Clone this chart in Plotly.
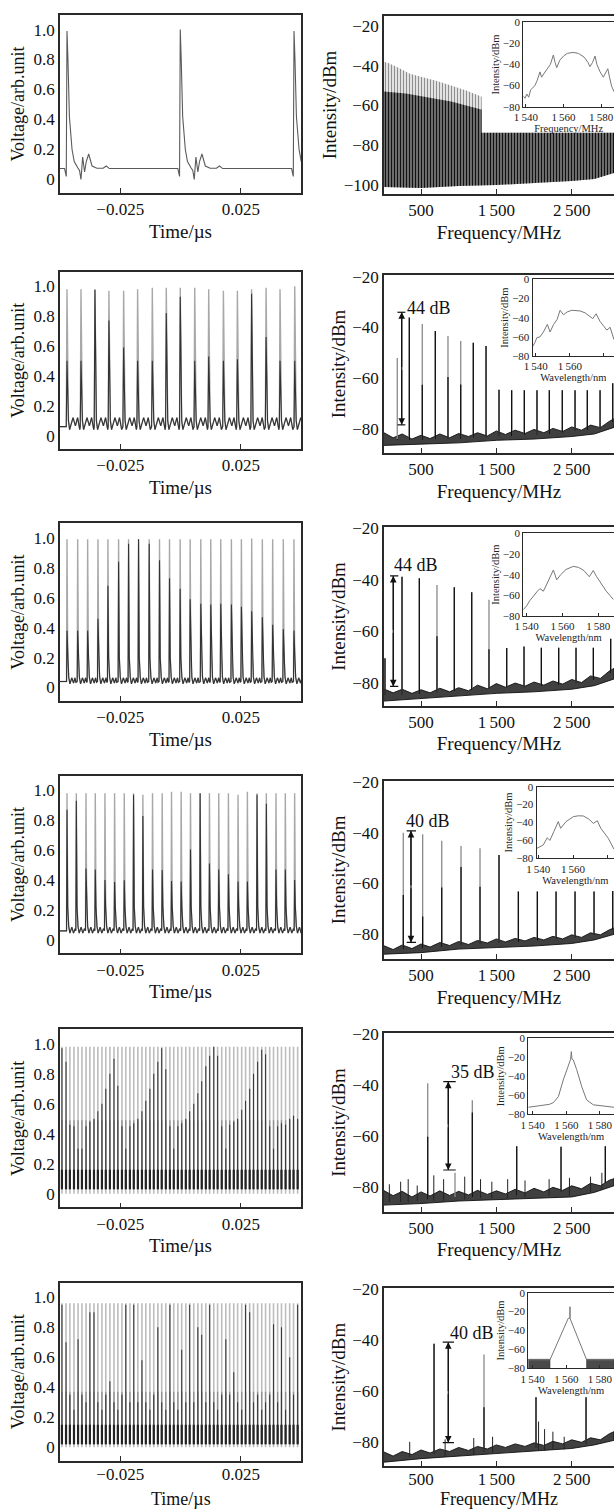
import plotly.graph_objects as go

W, H = 614, 1510
SERIF = "Liberation Serif"
TS = "\u2009"
MN = "\u2212"

# ================= DATA =================
# ---- time domain (left column), time in us, voltage arb. unit ----
t_start = -0.05
r1_t = [-0.0471, -0.0001, 0.0471]
r1_peak = [0.99, 1.0, 0.99]
r1_pre_dt = [-0.0010, -0.0003]
r1_pre_v = [0.073, 0.02]
r1_post_dt = [0.0004, 0.0010, 0.0021, 0.0030, 0.0044, 0.0052, 0.0058, 0.0065, 0.0073, 0.0080, 0.0090, 0.0104, 0.0124, 0.0150, 0.0163, 0.0176, 0.0440]
r1_post_v = [0.80, 0.42, 0.20, 0.12, 0.08, 0.06, 0.00, 0.15, 0.05, 0.12, 0.17, 0.09, 0.075, 0.075, 0.09, 0.073, 0.073]

r2_t = [-0.0471, -0.0413, -0.0355, -0.0297, -0.0236, -0.0178, -0.0117, -0.0059, -0.0001,
        0.0059, 0.0117, 0.0178, 0.0236, 0.0295, 0.0355, 0.0413, 0.0474]
r2_light = [0.98, 0.98, 0.98, 0.97, 0.97, 0.98, 0.99, 0.99, 0.99, 0.99, 0.98, 0.97, 0.97, 0.98, 0.99, 0.98, 1.0]
r2_dark = [0.50, 0.50, 0.976, 0.77, 0.59, 0.50, 0.50, 0.82, 0.93, 0.50, 0.53, 0.50, 0.51, 0.95, 0.66, 0.50, 0.50]
r2_pre_dt = [-0.0003]
r2_pre_v = [0.06]
r2_post_dt = [0.0003, 0.0006, 0.0011, 0.0025, 0.0035, 0.0044, 0.0053]
r2_post_v = [0.23, 0.10, 0.04, 0.12, 0.065, 0.12, 0.04]

r3_t = [-0.04709, -0.04267, -0.03853, -0.03425, -0.03011, -0.02569, -0.02155, -0.01741, -0.01299,
        -0.00871, -0.00456, -0.00015, 0.00400, 0.00842, 0.01256, 0.01670, 0.02112, 0.02526,
        0.02954, 0.03396, 0.03824, 0.04266, 0.04708]
r3_light = [0.99, 0.99, 0.99, 0.99, 0.99, 0.99, 0.99, 0.99, 0.99, 0.99, 0.99, 0.99,
            0.99, 0.99, 0.99, 0.99, 0.99, 0.99, 0.995, 0.99, 0.99, 0.99, 0.99]
r3_dark = [0.38, 0.38, 0.38, 0.46, 0.68, 0.84, 0.96, 0.99, 0.96, 0.85, 0.73, 0.66,
           0.59, 0.56, 0.555, 0.56, 0.555, 0.54, 0.51, 0.47, 0.42, 0.39, 0.38]
r3_pre_dt = [-0.0002]
r3_pre_v = [0.04]
r3_post_dt = [0.0003, 0.0007, 0.0012, 0.0020, 0.0027, 0.0033, 0.0037]
r3_post_v = [0.20, 0.07, 0.025, 0.065, 0.03, 0.065, 0.035]

r4_t = [-0.04709, -0.04323, -0.03922, -0.03536, -0.03135, -0.02735, -0.02334, -0.01948, -0.01561,
        -0.01161, -0.00760, -0.00373, 0.00027, 0.00414, 0.00814, 0.01201, 0.01587, 0.01988,
        0.02388, 0.02775, 0.03175, 0.03562, 0.03962, 0.04349, 0.04736]
r4_light = [0.98, 0.98, 0.98, 0.98, 0.98, 0.98, 0.98, 0.98, 0.97, 0.98, 0.98, 0.99, 0.99,
            0.98, 0.98, 0.98, 0.98, 0.98, 0.97, 0.99, 0.98, 0.98, 0.98, 0.98, 0.98]
r4_dark = [0.87, 0.93, 0.476, 0.47, 0.40, 0.387, 0.398, 0.97, 0.827, 0.47, 0.467, 0.393, 0.39,
           0.604, 0.98, 0.51, 0.47, 0.438, 0.39, 0.39, 0.97, 0.91, 0.47, 0.47, 0.40]
r4_pre_dt = [-0.0002]
r4_pre_v = [0.06]
r4_post_dt = [0.0003, 0.0007, 0.0012, 0.0020, 0.0027, 0.0034]
r4_post_v = [0.22, 0.09, 0.045, 0.085, 0.045, 0.075]

t_dense = [-0.0492, -0.0475, -0.0459, -0.0442, -0.0425, -0.0409, -0.0392, -0.0376, -0.0359, -0.0343,
           -0.0326, -0.0310, -0.0293, -0.0276, -0.0260, -0.0243, -0.0227, -0.0210, -0.0194, -0.0177,
           -0.0160, -0.0144, -0.0127, -0.0111, -0.0094, -0.0078, -0.0061, -0.0044, -0.0028, -0.0011,
           0.0005, 0.0022, 0.0038, 0.0055, 0.0072, 0.0088, 0.0105, 0.0121, 0.0138, 0.0154,
           0.0171, 0.0188, 0.0204, 0.0221, 0.0237, 0.0254, 0.0270, 0.0287, 0.0303, 0.0320,
           0.0337, 0.0353, 0.0370, 0.0386, 0.0403, 0.0419, 0.0436, 0.0453, 0.0469, 0.0486]
r5_light = 0.98
r5_mid = 0.49
r5_band = [0.03, 0.16]
r5_dark = [0.97, 0.88, 0.46, 0.45, 0.30, 0.30, 0.45, 0.48, 0.50, 0.55, 0.60, 0.70, 0.80, 0.90, 0.72,
           0.45, 0.30, 0.45, 0.47, 0.50, 0.55, 0.62, 0.70, 0.80, 0.88, 0.97, 0.83, 0.45, 0.30, 0.45,
           0.47, 0.50, 0.55, 0.60, 0.67, 0.75, 0.85, 0.92, 0.98, 0.92, 0.45, 0.30, 0.46, 0.48, 0.50,
           0.56, 0.62, 0.70, 0.80, 0.88, 0.96, 0.93, 0.45, 0.30, 0.45, 0.47, 0.46, 0.50, 0.52, 0.50]
r6_light = 0.96
r6_mid = 0.37
r6_band = [0.02, 0.15]
r6_dark = [0.95, 0.70, 0.35, 0.25, 0.72, 0.35, 0.30, 0.90, 0.90, 0.30, 0.25, 0.35, 0.44, 0.30, 0.25,
           0.35, 0.95, 0.30, 0.95, 0.30, 0.58, 0.30, 0.25, 0.35, 0.80, 0.30, 0.25, 0.95, 0.30, 0.25,
           0.65, 0.30, 0.95, 0.30, 0.80, 0.75, 0.30, 0.95, 0.30, 0.25, 0.35, 0.72, 0.35, 0.50, 0.30,
           0.25, 0.95, 0.90, 0.30, 0.35, 0.25, 0.30, 0.35, 0.82, 0.30, 0.80, 0.25, 0.60, 0.35, 0.95]

# ---- RF spectra (right column), MHz / dBm ----
f_range = [9, 3061]
r1_env_light_f = [9, 60, 200, 354, 500, 700, 900, 1100, 1300, 1500, 2000, 3061]
r1_env_light_db = [-38, -38.5, -41, -44, -45.5, -47.5, -50, -52.5, -55.5, -60, -65, -70]
r1_env_dark_f = [9, 300, 600, 900, 1300, 2000, 3061]
r1_env_dark_db = [-53, -54, -56, -58, -62, -68, -72]
r1_floor_f = [9, 500, 1000, 1500, 2000, 2500, 2800, 3061]
r1_floor_db = [-101, -101.5, -100.5, -100, -99, -98, -97, -94]

# noise floor: jagged upper edge and smooth lower edge
band_f = [9, 130, 250, 380, 500, 620, 750, 880, 1000, 1130, 1250, 1380, 1500, 1620, 1750, 1880,
          2000, 2130, 2250, 2380, 2500, 2630, 2750, 2880, 3000, 3061]
floor_f = [9, 500, 1000, 1500, 2000, 2500, 2800, 3061]
r2_band_hi = [-81.5, -83.5, -82, -84, -82.5, -83.8, -82, -83.5, -81.8, -83, -81.5, -82.8, -80.8, -82.2, -80.5,
              -81.8, -80.2, -81.5, -79.8, -81, -79.2, -80.5, -78.5, -79.5, -77, -76]
r2_band_lo = [-86.5, -86, -85.5, -84.5, -84, -83, -82, -79.4]
r3_band_hi = [-82.5, -84, -82.6, -84.2, -82.8, -84, -82.2, -83.6, -82, -83.2, -81, -82.4, -80.4, -81.8, -80.2,
              -81.4, -79.8, -81, -79.4, -80.6, -78.8, -80, -77.4, -78.4, -75.5, -74.5]
r3_band_lo = [-87.2, -86.2, -85.2, -84.2, -83.6, -82.6, -81.2, -78.6]
r4_band_hi = [-84.5, -86, -84.2, -85.6, -83.8, -85, -83.2, -84.4, -82.8, -84, -82.4, -83.4, -81.8, -83, -81.6,
              -82.6, -81.2, -82.2, -80.8, -81.8, -80.2, -81.2, -79.4, -80.2, -78.2, -77.5]
r4_band_lo = [-87.8, -87.2, -85.8, -85.2, -84.6, -83.6, -82.2, -80]
r5_band_hi = [-81.5, -83.5, -81.8, -84, -82, -83.6, -81.6, -83.4, -81.8, -83.2, -81.4, -83, -81.6, -82.8, -81,
              -82.4, -80.6, -82, -80.2, -81.4, -79.6, -80.8, -78.6, -79.6, -77.4, -76.8]
r5_band_lo = [-87.2, -86.6, -85.6, -85.2, -84.6, -84, -82.2, -79.6]
r6_band_hi = [-84, -85.6, -83.8, -85, -83.2, -84.4, -82.8, -83.8, -82.2, -83.4, -81.8, -82.8, -81.2, -82.2, -80.8,
              -81.8, -80.4, -81.4, -79.8, -80.8, -79.2, -80.2, -78.4, -79.2, -76.8, -76]
r6_band_lo = [-88, -86.6, -85.6, -84.6, -83.6, -82.6, -81.2, -79.4]

r2_pk_f = [185, 345, 517, 690, 858, 1027, 1194, 1363, 1535, 1703, 1871, 2039, 2203, 2375, 2544, 2707, 2876, 3044]
r2_pk_top = [-52, -36.1, -38.6, -41.4, -43.4, -45.3, -46.0, -47.3, -64.6, -64.8, -64.8, -64.8, -64.8, -64.8, -64.8, -64.8, -64.8, -62.0]
r2_pk_dark = [-84, -36.1, -62.6, -41.4, -59.5, -62.5, -46.0, -47.3, -64.6, -64.8, -64.8, -64.8, -64.8, -64.8, -64.8, -64.8, -64.8, -62.0]
r2_pk_base = [-84.5, -84.5, -84.5, -84, -84, -84, -83.5, -83.5, -83, -83, -82.5, -82.5, -82, -81.5, -81, -80.5, -80, -77.5]

r3_pk_f = [22, 248, 478, 712, 942, 1173, 1402, 1637, 1867, 2097, 2327, 2557, 2787, 3017]
r3_pk_top = [-70.5, -38.8, -39.4, -42.0, -42.9, -44.9, -47.8, -66.6, -66.0, -66.5, -66.5, -66.5, -66.5, -63.0]
r3_pk_dark = [-70.5, -38.8, -39.4, -62.0, -42.9, -44.9, -67.0, -66.6, -66.0, -66.5, -66.5, -66.5, -66.5, -63.0]
r3_pk_base = [-85, -85, -84.5, -84, -83.5, -83, -82.5, -82, -82, -81.5, -81, -80.5, -79, -76.5]

r4_pk_f = [265, 522, 775, 1031, 1283, 1535, 1792, 2044, 2292, 2544, 2796, 3044]
r4_pk_top = [-40.1, -40.7, -43.2, -45.3, -46.2, -48.8, -63.2, -63.2, -63.2, -63.2, -63.2, -63.0]
r4_pk_dark = [-64.5, -73.0, -61.6, -53.5, -61.3, -48.8, -63.2, -63.2, -63.2, -63.2, -63.2, -63.0]
r4_pk_base = [-86, -85.5, -85, -84.5, -84, -83.5, -83, -82.5, -82, -81.5, -80.5, -78.5]

r5_pk_f = [589, 951, 1181, 1770, 2358, 2946]
r5_pk_top = [-39.3, -74.5, -45.9, -64.0, -64.2, -64.0]
r5_pk_dark = [-60.3, -84.0, -50.8, -64.0, -64.2, -64.0]
r5_pk_base = [-85, -84, -84, -83.5, -82, -78.5]
r5_sp_f = [80, 230, 330, 450, 670, 800, 1080, 1290, 1440, 1650, 1880, 2200, 2470, 2750, 2900]
r5_sp_top = [-79, -78, -77, -79.5, -75.5, -77, -76, -77, -78, -77, -77.5, -77, -76.5, -76, -74.5]
r5_sp_base = [-86, -86, -86, -85.5, -85.5, -85.5, -85, -84.5, -84.5, -84.5, -84, -83.5, -83.5, -82, -81]

r6_pk_f = [673, 1336, 2026, 2690]
r6_pk_top = [-41.4, -45.6, -62.5, -62.5]
r6_pk_dark = [-41.4, -66.4, -62.5, -62.5]
r6_pk_base = [-85, -84, -82.5, -81]
r6_sp_f = [350, 820, 1200, 1450, 2060, 2140, 2250, 2400]
r6_sp_top = [-80, -79, -78.5, -78, -72, -75, -76, -78]
r6_sp_base = [-86, -85.5, -85, -84.5, -83.5, -83.5, -83, -83]

# extinction-ratio arrows: x, top, bottom, cap left, cap right, label, label x, label y
arrows = {
    2: (244, -34.0, -78.4, 188, 292, "44 dB", 288, -32.5),
    3: (132, -38.5, -81.5, 89, 199, "44 dB", 111, -34.2),
    4: (367, -39.3, -83.2, 310, 434, "40 dB", 278, -35.5),
    5: (862, -38.6, -73.4, 796, 961, "35 dB", 876, -34.7),
    6: (862, -40.8, -80.3, 788, 938, "40 dB", 862, -37.0),
}

# ---- optical spectra insets: wavelength nm / dBm ----
in1_wl = [1538.6, 1539.5, 1540.5, 1541.5, 1542.5, 1543.5, 1544.8, 1546, 1547.5, 1548.3, 1549.2, 1551, 1553, 1554.6,
          1555.5, 1556.4, 1558, 1560, 1562, 1565, 1568, 1571, 1573, 1574.1, 1575.5, 1576.8, 1577.8, 1579.5,
          1581.2, 1582.5, 1583.6, 1584.5, 1585.7, 1587]
in1_db = [-70, -72, -68, -71, -64, -62, -60, -55, -47, -52, -50, -45, -40, -31,
          -38, -43, -36, -32, -29.5, -28.5, -29.5, -33, -38, -42, -38, -32, -40, -47,
          -52, -47, -44, -52, -61, -66]
in2_wl = [1538.2, 1539.5, 1540.6, 1542.5, 1544.5, 1546.8, 1548.4, 1550.5, 1552.5, 1554.3, 1556.3, 1558.5, 1561.2,
          1564, 1566.1, 1569, 1572, 1573.5, 1575.5, 1577.8, 1580, 1581.8, 1583.7, 1585.6, 1586]
in2_db = [-70, -66, -61, -60, -55, -47, -55, -47, -42, -32.3, -37, -34, -32.3,
          -32.5, -33, -35, -39, -41, -36, -44, -49, -53, -50, -61, -63]
in3_wl = [1538.1, 1540, 1541.8, 1544, 1546, 1547.4, 1549.3, 1551, 1553, 1554.9, 1556.8, 1559, 1562, 1566,
          1569, 1572, 1575, 1577.2, 1579.1, 1581, 1582.8, 1584.5, 1586.5, 1588.4]
in3_db = [-74, -70, -65, -60, -56, -53.5, -56, -50, -43, -35.5, -45, -40, -35, -32,
          -33, -36, -42, -36, -42, -47, -52, -56, -60, -64]
in4_wl = [1539.1, 1541, 1542.9, 1545.2, 1546.7, 1549, 1551.5, 1552.9, 1556, 1560.2, 1563, 1565.9, 1569,
          1571.7, 1574, 1576, 1578, 1580.3, 1582.3, 1583.6]
in4_db = [-69, -67, -65, -57, -60, -50, -39, -46.5, -39, -33.5, -32.5, -32.7, -36,
          -41, -38, -46.5, -52, -57.6, -65, -70]
in5_wl = [1537.4, 1540, 1545, 1550, 1552.3, 1555.3, 1558.2, 1561.2, 1562.6, 1563.0, 1563.4, 1564.2, 1566.2,
          1569.2, 1572.1, 1576.1, 1582, 1588.4]
in5_db = [-72.6, -72, -71, -69.5, -67.7, -61.4, -43.9, -28, -22, -14, -22, -22.8, -33,
          -50.9, -64.9, -70, -71.5, -72.6]
in6_wl = [1537.4, 1550.3, 1561.2, 1562.2, 1562.2, 1562.2, 1572.1, 1588.4]
in6_db = [-71, -71, -27, -27, -14.8, -27, -71, -71]
in6_noise_l = [1537.4, 1550.3]
in6_noise_r = [1572.1, 1588.4]
in6_noise_top = -70.5

# ================= LAYOUT GEOMETRY (pixels) =================
left_x = (60, 301)
right_x = (384, 614)
left_y = [(15, 193), (271.7, 449), (523.3, 701), (775.7, 953.3), (1029.3, 1207.3), (1282.7, 1460.7)]
right_y = [(16, 194), (275, 453), (527.3, 705.7), (780.7, 959), (1033.3, 1211.7), (1288.3, 1466)]
right_yr = [[-104.5, -15], [-89.5, -19.3], [-89.0, -19.6], [-89.7, -19.6], [-89.8, -19.6], [-89.5, -19.6]]
inset_box = [(523.3, 22.3, 106.7), (532.7, 279.3, 356), (523.3, 533.3, 616),
             (536.7, 786.7, 858.3), (528.3, 1038.3, 1114.3), (528.3, 1292.7, 1368.3)]
inset_xr = [[1538.6, 1586.9], [1538.2, 1586], [1538.1, 1588.8], [1539.1, 1583.6], [1537.4, 1588.4], [1537.4, 1588.4]]
cover_box = (481.7, 17.5, 132.7)


def dx(a, b):
    return [a / W, min(b / W, 1.0)]


def dy(top, bot):
    return [1 - bot / H, 1 - top / H]


def ax(n):
    return ("x" if n == 1 else f"x{n}"), ("y" if n == 1 else f"y{n}")


def axkey(n):
    return ("xaxis" if n == 1 else f"xaxis{n}"), ("yaxis" if n == 1 else f"yaxis{n}")


fig = go.Figure()
LINE = "#2a2a2a"


def add(tr, n):
    xa, ya = ax(n)
    tr.update(xaxis=xa, yaxis=ya, hoverinfo="skip", showlegend=False)
    fig.add_trace(tr)


def pulse_xy(times, peaks, pre_dt, pre_v, post_dt, post_v):
    X, Y = [t_start], [pre_v[0]]
    for t, p in zip(times, peaks):
        X += [t + d for d in pre_dt] + [t] + [t + d for d in post_dt]
        Y += list(pre_v) + [p] + list(post_v)
    return X, Y


def segs(xs, y0, y1):
    X, Y = [], []
    for i, x in enumerate(xs):
        a = y0[i] if isinstance(y0, list) else y0
        b = y1[i] if isinstance(y1, list) else y1
        X += [x, x, None]
        Y += [a, b, None]
    return X, Y


# ---------- left column ----------
X, Y = pulse_xy(r1_t, r1_peak, r1_pre_dt, r1_pre_v, r1_post_dt, r1_post_v)
add(go.Scatter(x=X, y=Y, mode="lines", line=dict(color="#5a5a5a", width=1.1)), 1)

for n, (tt, lt, dk, pdt, pv, qdt, qv) in {
    2: (r2_t, r2_light, r2_dark, r2_pre_dt, r2_pre_v, r2_post_dt, r2_post_v),
    3: (r3_t, r3_light, r3_dark, r3_pre_dt, r3_pre_v, r3_post_dt, r3_post_v),
    4: (r4_t, r4_light, r4_dark, r4_pre_dt, r4_pre_v, r4_post_dt, r4_post_v),
}.items():
    X, Y = pulse_xy(tt, lt, pdt, pv, qdt, qv)
    add(go.Scatter(x=X, y=Y, mode="lines", line=dict(color="#a8a8a8", width=1.4)), n)
    X, Y = pulse_xy(tt, dk, pdt, pv, qdt, qv)
    add(go.Scatter(x=X, y=Y, mode="lines", line=dict(color="#333333", width=1.1)), n)

for n, (lt, md, band, dk) in {5: (r5_light, r5_mid, r5_band, r5_dark),
                              6: (r6_light, r6_mid, r6_band, r6_dark)}.items():
    X, Y = segs(t_dense, 0.0, lt)
    add(go.Scatter(x=X, y=Y, mode="lines", line=dict(color="#bdbdbd", width=1.6)), n)
    X, Y = segs(t_dense, band[0], md)
    add(go.Scatter(x=X, y=Y, mode="lines", line=dict(color="#8e8e8e", width=1.3)), n)
    X, Y = segs(t_dense, band[0], dk)
    add(go.Scatter(x=X, y=Y, mode="lines", line=dict(color="#3a3a3a", width=1.1)), n)
    X, Y = segs(t_dense, band[0], band[1])
    add(go.Scatter(x=X, y=Y, mode="lines", line=dict(color="#222222", width=2.2)), n)

# ---------- right column ----------
add(go.Scatter(x=r1_env_light_f + r1_floor_f[::-1], y=r1_env_light_db + r1_floor_db[::-1],
               mode="lines", fill="toself", line=dict(width=0, color="#999"),
               fillpattern=dict(shape="|", size=3, solidity=0.5, fgcolor="#8f8f8f", bgcolor="white",
                                fillmode="replace")), 7)
add(go.Scatter(x=r1_env_dark_f + r1_floor_f[::-1], y=r1_env_dark_db + r1_floor_db[::-1],
               mode="lines", fill="toself", line=dict(width=0, color="#111"),
               fillpattern=dict(shape="|", size=3, solidity=0.5, fgcolor="#111111", bgcolor="#8a8a8a",
                                fillmode="replace")), 7)

rows = {
    2: (r2_band_hi, r2_band_lo, r2_pk_f, r2_pk_top, r2_pk_dark, r2_pk_base, None),
    3: (r3_band_hi, r3_band_lo, r3_pk_f, r3_pk_top, r3_pk_dark, r3_pk_base, None),
    4: (r4_band_hi, r4_band_lo, r4_pk_f, r4_pk_top, r4_pk_dark, r4_pk_base, None),
    5: (r5_band_hi, r5_band_lo, r5_pk_f, r5_pk_top, r5_pk_dark, r5_pk_base, (r5_sp_f, r5_sp_top, r5_sp_base)),
    6: (r6_band_hi, r6_band_lo, r6_pk_f, r6_pk_top, r6_pk_dark, r6_pk_base, (r6_sp_f, r6_sp_top, r6_sp_base)),
}
for r, (hi, lo, pf, pt, pd, pb, sp) in rows.items():
    n = 6 + r
    add(go.Scatter(x=band_f + floor_f[::-1], y=hi + lo[::-1], mode="lines", fill="toself",
                   line=dict(color="#111111", width=0.9),
                   fillpattern=dict(shape="|", size=2, solidity=0.5, fgcolor="#111111", bgcolor="#6e6e6e",
                                    fillmode="replace")), n)
    if sp:
        X, Y = segs(sp[0], sp[2], sp[1])
        add(go.Scatter(x=X, y=Y, mode="lines", line=dict(color="#222", width=1.0)), n)
    X, Y = segs(pf, pb, pt)
    add(go.Scatter(x=X, y=Y, mode="lines", line=dict(color="#8a8a8a", width=1.3)), n)
    X, Y = segs(pf, pb, pd)
    add(go.Scatter(x=X, y=Y, mode="lines", line=dict(color="#111111", width=1.3)), n)

# white cover behind the row-1 inset
add(go.Scatter(x=[0], y=[0], mode="markers", marker=dict(opacity=0)), 13)

insets = [(in1_wl, in1_db), (in2_wl, in2_db), (in3_wl, in3_db), (in4_wl, in4_db), (in5_wl, in5_db), (in6_wl, in6_db)]
for i, (wl, db) in enumerate(insets):
    n = 14 + i
    if i == 5:
        for xs in (in6_noise_l, in6_noise_r):
            add(go.Scatter(x=[xs[0], xs[0], xs[1], xs[1]], y=[-80, in6_noise_top, in6_noise_top, -80],
                           mode="lines", fill="toself", fillcolor="#4a4a4a", line=dict(width=0.6, color="#333")), n)
    add(go.Scatter(x=wl, y=db, mode="lines", line=dict(color="#777777", width=1.0)), n)

# ================= AXES =================
lay = {}
anns = []
tickf = dict(family=SERIF, size=17, color="#111")
for i in range(6):
    last = (i == 5)
    xk, yk = axkey(i + 1)
    xa, ya = ax(i + 1)
    lay[xk] = dict(domain=dx(*left_x), range=[-0.05, 0.05], anchor=ya, automargin=False,
                   tickvals=[-0.025, 0.025], ticktext=[MN + "0.025", "0.025"],
                   ticks="inside", ticklen=5, tickwidth=1.2, tickcolor=LINE,
                   showline=True, mirror=True, linecolor=LINE, linewidth=1.6,
                   showgrid=False, zeroline=False, tickfont=tickf, ticklabelstandoff=(-3 if last else 0),
                   title=dict(text="" if last else "Time/\u00b5s",
                              font=dict(family=SERIF, size=19, color="#111"), standoff=6))
    lay[yk] = dict(domain=dy(*left_y[i]), range=[-0.09, 1.097], anchor=xa, automargin=False,
                   tickvals=[0, 0.2, 0.4, 0.6, 0.8, 1.0], ticktext=["0", "0.2", "0.4", "0.6", "0.8", "1.0"],
                   ticks="", showline=True, mirror=True, linecolor=LINE, linewidth=1.6,
                   showgrid=False, zeroline=False, tickfont=tickf,
                   title=dict(text="Voltage/arb.unit", font=dict(family=SERIF, size=18, color="#111"), standoff=4))
    n = 7 + i
    xk, yk = axkey(n)
    xa, ya = ax(n)
    yt = [-20, -40, -60, -80] + ([-100] if i == 0 else [])
    lay[xk] = dict(domain=dx(*right_x), range=f_range, anchor=ya, automargin=False,
                   tickvals=[500, 1500, 2500], ticktext=["500", "1" + TS + "500", "2" + TS + "500"],
                   ticks="inside", ticklen=5, tickwidth=1.2, tickcolor=LINE,
                   showline=True, mirror=True, linecolor=LINE, linewidth=1.6,
                   showgrid=False, zeroline=False, tickfont=tickf, ticklabelstandoff=(-3 if last else 0),
                   title=dict(text="" if last else "Frequency/MHz",
                              font=dict(family=SERIF, size=19, color="#111"), standoff=6))
    lay[yk] = dict(domain=dy(*right_y[i]), range=right_yr[i], anchor=xa, automargin=False,
                   tickvals=yt, ticktext=[MN + str(-v) for v in yt],
                   ticks="", showline=True, mirror=False, linecolor=LINE, linewidth=1.6,
                   showgrid=False, zeroline=False, tickfont=tickf,
                   title=dict(text="Intensity/dBm", font=dict(family=SERIF, size=19, color="#111"), standoff=2))
    n = 14 + i
    xk, yk = axkey(n)
    xa, ya = ax(n)
    bx, bt, bb = inset_box[i]
    sf = dict(family=SERIF, size=11, color="#222")
    lay[xk] = dict(domain=dx(bx, 614), range=inset_xr[i], anchor=ya, automargin=False,
                   tickvals=[1540, 1560, 1580], ticktext=["1" + TS + "540", "1" + TS + "560", "1" + TS + "580"],
                   ticks="inside", ticklen=3, tickwidth=1, tickcolor=LINE,
                   showline=True, mirror=True, linecolor=LINE, linewidth=1.3,
                   showgrid=False, zeroline=False, tickfont=sf,
                   title=dict(text=("Frequency/MHz" if i == 0 else "Wavelength/nm"),
                              font=dict(family=SERIF, size=10.5, color="#222"), standoff=1))
    lay[yk] = dict(domain=dy(bt, bb), range=[-80, 0], anchor=xa, automargin=False,
                   tickvals=[0, -20, -40, -60, -80], ticktext=["0", MN + "20", MN + "40", MN + "60", MN + "80"],
                   ticks="", showline=True, mirror=False, linecolor=LINE, linewidth=1.3,
                   showgrid=False, zeroline=False, tickfont=sf,
                   title=dict(text="Intensity/dBm", font=dict(family=SERIF, size=10.5, color="#222"), standoff=1))

# bottom-row x titles as free text sitting on the bottom edge
for txt, (a, b) in (("Time/\u00b5s", left_x), ("Frequency/MHz", right_x)):
    anns.append(dict(x=(a + b) / 2 / W, y=0, xref="paper", yref="paper",
                     text=txt, showarrow=False, xanchor="center", yanchor="bottom", borderpad=0,
                     font=dict(family=SERIF, size=18, color="#111")))

cx, ct, cb = cover_box
lay["xaxis13"] = dict(domain=dx(cx, 614), range=[0, 1], anchor="y13", visible=False, automargin=False)
lay["yaxis13"] = dict(domain=dy(ct, cb), range=[0, 1], anchor="x13", visible=False, automargin=False)

# ================= ARROWS =================
shapes = []
for r, (x, top, bot, cl, cr, txt, tx, ty) in arrows.items():
    xa, ya = ax(6 + r)
    mid = (top + bot) / 2
    shapes.append(dict(type="line", xref=xa, yref=ya, x0=x, x1=x, y0=top, y1=bot,
                       line=dict(color="#111", width=1.2)))
    for end in (top, bot):
        anns.append(dict(x=x, y=end, ax=x, ay=mid, xref=xa, yref=ya, axref=xa, ayref=ya,
                         showarrow=True, arrowhead=2, arrowsize=1.1, arrowwidth=1.2, arrowcolor="#111",
                         standoff=0, text=""))
        shapes.append(dict(type="line", xref=xa, yref=ya, x0=cl, x1=cr, y0=end, y1=end,
                           line=dict(color="#111", width=1.2)))
    anns.append(dict(x=tx, y=ty, xref=xa, yref=ya, text=txt, showarrow=False, xanchor="left", yanchor="middle",
                     font=dict(family=SERIF, size=18, color="#111")))

fig.update_layout(**lay)
fig.update_layout(width=W, height=H, autosize=False, margin=dict(l=0, r=0, t=0, b=0, autoexpand=False),
                  paper_bgcolor="white", plot_bgcolor="white", showlegend=False,
                  font=dict(family=SERIF, color="#111"), shapes=shapes, annotations=anns)
fig.write_html("out.html", config={"displayModeBar": False},
               post_script="document.body.style.margin='0';document.body.style.overflow='hidden';")
